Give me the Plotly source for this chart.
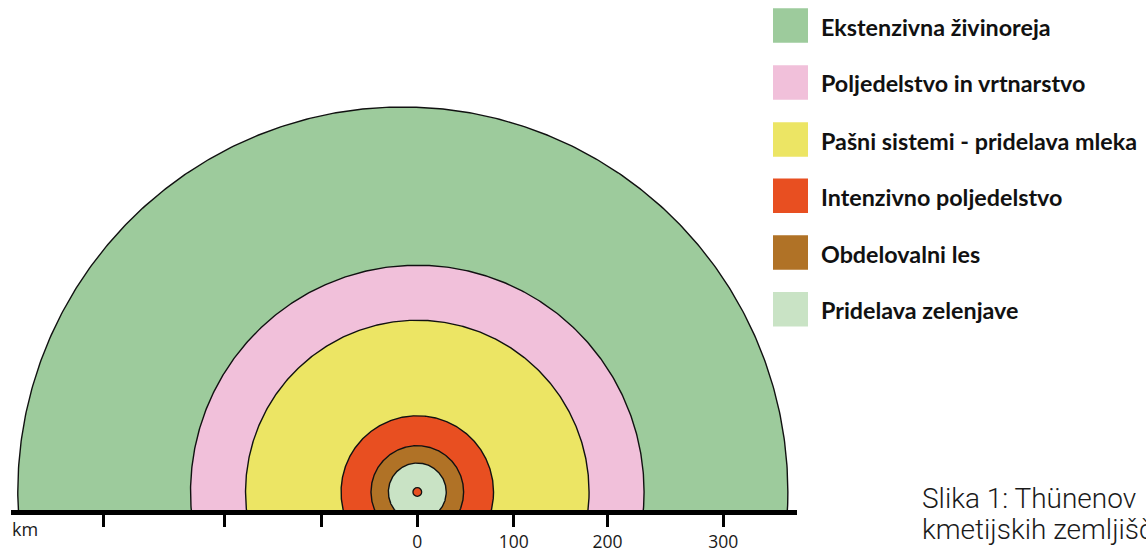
import numpy as np
import plotly.graph_objects as go

# ---- data (km) ----
zones = ["Ekstenzivna živinoreja", "Poljedelstvo in vrtnarstvo", "Pašni sistemi - pridelava mleka",
         "Intenzivno poljedelstvo", "Obdelovalni les", "Pridelava zelenjave"]
zone_outer_radius_km = [399, 235, 178, 79, 48, 30]
zone_center_km = [-15, 0, 0, 0, 0, 0]
zone_colors = ["#9DCB9C", "#F1C0DA", "#ECE564", "#E84F21", "#B07226", "#C9E3C5"]
city_radius_km = 4
tick_pos_km = [-325, -200, -99, 0, 100, 197, 317]
tick_labels = ["", "", "", "0", "100", "200", "300"]
axis_unit = "km"
caption_lines = ["Slika 1: Thünenov", "kmetijskih zemljišč"]

# ---- layout geometry (pixels) ----
W, H = 1146, 554
PL, PR = 11, 797          # plot area left/right (px)
PT, PB = 0, 510           # plot area top/bottom (px)
CX, CY = 417.3, 492.0     # centre of rings (px)
K = 0.965                 # px per km

x_range = [(PL - CX) / K, (PR - CX) / K]
y_range = [(CY - PB) / K, (CY - PT) / K]


def px_to_paper(px, py):
    return (px - PL) / (PR - PL), (PB - py) / (PB - PT)


fig = go.Figure()
theta = np.linspace(0, 2 * np.pi, 721)
for name, r, c0, col in zip(zones, zone_outer_radius_km, zone_center_km, zone_colors):
    fig.add_trace(go.Scatter(
        x=c0 + r * np.cos(theta), y=r * np.sin(theta), mode="lines",
        fill="toself", fillcolor=col, line=dict(color="#111111", width=1.4),
        name=name, hoverinfo="skip", showlegend=False))

fig.add_trace(go.Scatter(
    x=[0], y=[0], mode="markers",
    marker=dict(size=2 * city_radius_km * K + 1, color="#E84F21", line=dict(color="#111111", width=1.3)),
    hoverinfo="skip", showlegend=False))

shapes = []
annotations = []
# legend squares + labels
sq_x0, sq_x1 = 773, 808
sq_centers = [25.5, 82.5, 139.5, 195.8, 252.5, 309.3]
for name, col, cy in zip(zones, zone_colors, sq_centers):
    x0, y0 = px_to_paper(sq_x0, cy + 17.3)
    x1, y1 = px_to_paper(sq_x1, cy - 17.3)
    shapes.append(dict(type="rect", xref="paper", yref="paper", x0=x0, x1=x1, y0=y0, y1=y1,
                       fillcolor=col, line=dict(width=0)))
    ax, ay = px_to_paper(819, cy + 1)
    annotations.append(dict(xref="paper", yref="paper", x=ax, y=ay, xanchor="left", yanchor="middle",
                            text=f"<b>{name}</b>", showarrow=False,
                            font=dict(family="Lato", size=23.3, color="#111111", weight=900)))

# unit label
ux, uy = px_to_paper(10, 529)
annotations.append(dict(xref="paper", yref="paper", x=ux, y=uy, xanchor="left", yanchor="middle",
                        text=axis_unit, showarrow=False,
                        font=dict(family="Open Sans", size=18, color="#1a1a1a")))

# caption
for i, line in enumerate(caption_lines):
    cx, cy = px_to_paper(920, 498 + 31 * i)
    annotations.append(dict(xref="paper", yref="paper", x=cx, y=cy, xanchor="left", yanchor="middle",
                            text=line, showarrow=False,
                            font=dict(family="Roboto", size=28, color="#1a1a1a", weight=300)))

fig.update_layout(
    width=W, height=H,
    margin=dict(l=PL, r=W - PR, t=PT, b=H - PB, pad=0),
    paper_bgcolor="white", plot_bgcolor="white",
    shapes=shapes, annotations=annotations,
    xaxis=dict(range=x_range, showgrid=False, zeroline=False, showline=True, linewidth=5,
               linecolor="black", ticks="outside", ticklen=12, tickwidth=3, tickcolor="black",
               tickvals=tick_pos_km, ticktext=tick_labels,
               tickfont=dict(family="Open Sans", size=17.5, color="#1a1a1a"), fixedrange=True),
    yaxis=dict(range=y_range, visible=False, fixedrange=True),
)

fig.write_html("out.html", config={"displayModeBar": False},
               post_script="document.body.style.margin='0px';document.body.style.overflow='hidden';")
